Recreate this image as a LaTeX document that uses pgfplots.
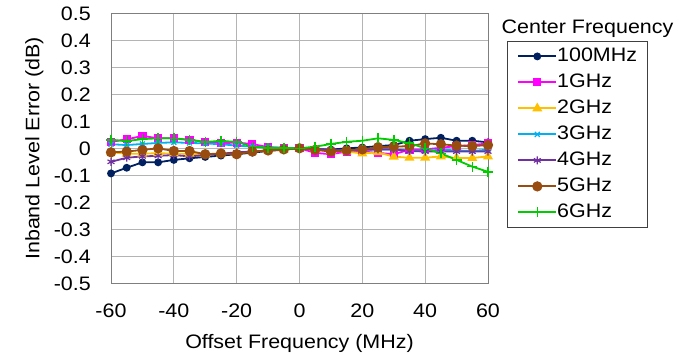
\documentclass[border=0pt]{standalone}
\usepackage{pgfplots}
\pgfplotsset{compat=1.18}
\usepackage{fontspec}
\setmainfont{Liberation Sans}[FakeStretch=1.1]
\definecolor{cnavy}{HTML}{002060}
\definecolor{cmag}{HTML}{FF00FF}
\definecolor{corange}{HTML}{FFC000}
\definecolor{ccyan}{HTML}{00B0F0}
\definecolor{cpurple}{HTML}{7030A0}
\definecolor{cbrown}{HTML}{994C0F}
\definecolor{cgreen}{HTML}{00CC00}
\definecolor{gridc}{HTML}{B4B4B4}
\definecolor{axc}{HTML}{7F7F7F}
\newcommand{\cf}{\fontsize{19.5}{21}\selectfont}
\begin{document}
\begin{tikzpicture}[x=1pt,y=1pt]
\useasboundingbox (0,0) rectangle (685,-355);
\begin{axis}[
  at={(111pt,-283.3pt)}, anchor=south west,
  scale only axis, width=377pt, height=270pt,
  xmin=-60, xmax=60, ymin=-0.5, ymax=0.5,
  xtick={-60,-40,...,60},
  ytick={-0.5,-0.4,...,0.5},
  yticklabel style={/pgf/number format/fixed,/pgf/number format/precision=1},
  /pgf/number format/assume math mode=true,
  grid=major,
  major grid style={gridc, line width=0.9pt},
  axis line style={axc, line width=1pt},
  major tick length=0pt,
  tick label style={font=\cf, text=black},
  yticklabel style={inner sep=0pt, anchor=east, xshift=-20pt},
  xticklabel style={inner sep=0pt, anchor=north, yshift=-20pt},
  label style={font=\cf},
  xlabel={Offset Frequency (MHz)},
  ylabel={Inband Level Error (dB)},
  xlabel style={at={(axis description cs:0.5,0)}, anchor=base, yshift=-64.7pt, inner sep=0pt},
  ylabel style={at={(axis description cs:-0.1902,0.5)}, anchor=base, inner sep=0pt},
  every axis plot/.append style={line width=1.8pt},
  legend style={at={(1.0504,0.8974)}, anchor=north west, draw=black!75, line width=0.8pt,
    inner xsep=10pt, inner ysep=5.5pt, row sep=7pt,
    font=\cf,
    nodes={inner sep=0pt, text height=14.5pt, text depth=4.5pt}},
  legend cell align=left,
  legend image code/.code={\draw[mark repeat=2,mark phase=2,#1] plot coordinates {(0pt,0pt) (19pt,0pt) (38pt,0pt)};},
  clip=false,
]
\addplot[cnavy, mark=*, mark size=3pt] coordinates {
(-60,-0.093) (-55,-0.072) (-50,-0.052) (-45,-0.052) (-40,-0.043) (-35,-0.037)
(-30,-0.032) (-25,-0.027) (-20,-0.022) (-15,-0.016) (-10,-0.010) (-5,-0.005)
(0,0) (5,-0.003) (10,-0.005) (15,0) (20,0.003) (25,0.008) (30,0.012)
(35,0.028) (40,0.034) (45,0.039) (50,0.028) (55,0.028) (60,0.022)};
\addlegendentry{100MHz}
\addplot[cmag, mark=square*, mark size=3.2pt] coordinates {
(-60,0.024) (-55,0.033) (-50,0.046) (-45,0.037) (-40,0.037) (-35,0.031)
(-30,0.024) (-25,0.019) (-20,0.021) (-15,0.016) (-10,0.004) (-5,0.002)
(0,0) (5,-0.017) (10,-0.022) (15,-0.012) (20,-0.012) (25,-0.017) (30,-0.022)
(35,-0.005) (40,-0.004) (45,0.002) (50,0.008) (55,0.012) (60,0.018)};
\addlegendentry{1GHz}
\addplot[corange, mark=triangle*, mark size=4pt] coordinates {
(-60,-0.015) (-55,-0.020) (-50,-0.020) (-45,-0.018) (-40,-0.020) (-35,-0.020)
(-30,-0.022) (-25,-0.020) (-20,-0.018) (-15,-0.012) (-10,-0.008) (-5,-0.004)
(0,0) (5,-0.005) (10,-0.010) (15,-0.012) (20,-0.019) (25,-0.015) (30,-0.031)
(35,-0.035) (40,-0.035) (45,-0.030) (50,-0.036) (55,-0.036) (60,-0.030)};
\addlegendentry{2GHz}
\addplot[ccyan, mark=x, mark size=3.5pt, mark options={line width=1.2pt}] coordinates {
(-60,0.015) (-55,0.012) (-50,0.016) (-45,0.020) (-40,0.022) (-35,0.020)
(-30,0.018) (-25,0.015) (-20,0.010) (-15,0.006) (-10,0.003) (-5,0.002)
(0,0) (5,-0.004) (10,-0.006) (15,-0.008) (20,-0.006) (25,-0.005) (30,-0.004)
(35,-0.008) (40,-0.010) (45,-0.005) (50,-0.008) (55,-0.010) (60,-0.005)};
\addlegendentry{3GHz}
\addplot[cpurple, mark=asterisk, mark size=4pt, mark options={line width=1.2pt}] coordinates {
(-60,-0.050) (-55,-0.035) (-50,-0.030) (-45,-0.028) (-40,-0.025) (-35,-0.030)
(-30,-0.025) (-25,-0.020) (-20,-0.015) (-15,-0.012) (-10,-0.008) (-5,-0.004)
(0,0) (5,-0.002) (10,-0.005) (15,-0.008) (20,-0.006) (25,-0.004) (30,-0.004)
(35,-0.010) (40,-0.012) (45,-0.012) (50,-0.012) (55,-0.012) (60,-0.012)};
\addlegendentry{4GHz}
\addplot[cbrown, mark=*, mark size=4.2pt] coordinates {
(-60,-0.015) (-55,-0.012) (-50,-0.006) (-45,0) (-40,-0.010) (-35,-0.010)
(-30,-0.022) (-25,-0.019) (-20,-0.022) (-15,-0.012) (-10,-0.008) (-5,-0.004)
(0,0) (5,-0.006) (10,-0.012) (15,-0.008) (20,-0.004) (25,0.004) (30,0.006)
(35,0.008) (40,0.018) (45,0.015) (50,0.010) (55,0.008) (60,0.012)};
\addlegendentry{5GHz}
\addplot[cgreen, mark=+, mark size=5pt, mark options={line width=1.5pt}] coordinates {
(-60,0.031) (-55,0.027) (-50,0.034) (-45,0.037) (-40,0.037) (-35,0.031)
(-30,0.024) (-25,0.027) (-20,0.024) (-15,0.006) (-10,0.002) (-5,0.001)
(0,0) (5,0.006) (10,0.016) (15,0.024) (20,0.028) (25,0.037) (30,0.031)
(35,0.019) (40,0) (45,-0.019) (50,-0.043) (55,-0.068) (60,-0.087)};
\addlegendentry{6GHz}
\end{axis}
\node[anchor=base, font=\cf, inner sep=0pt] at (587.5,-33.3) {Center Frequency};
\end{tikzpicture}
\end{document}
